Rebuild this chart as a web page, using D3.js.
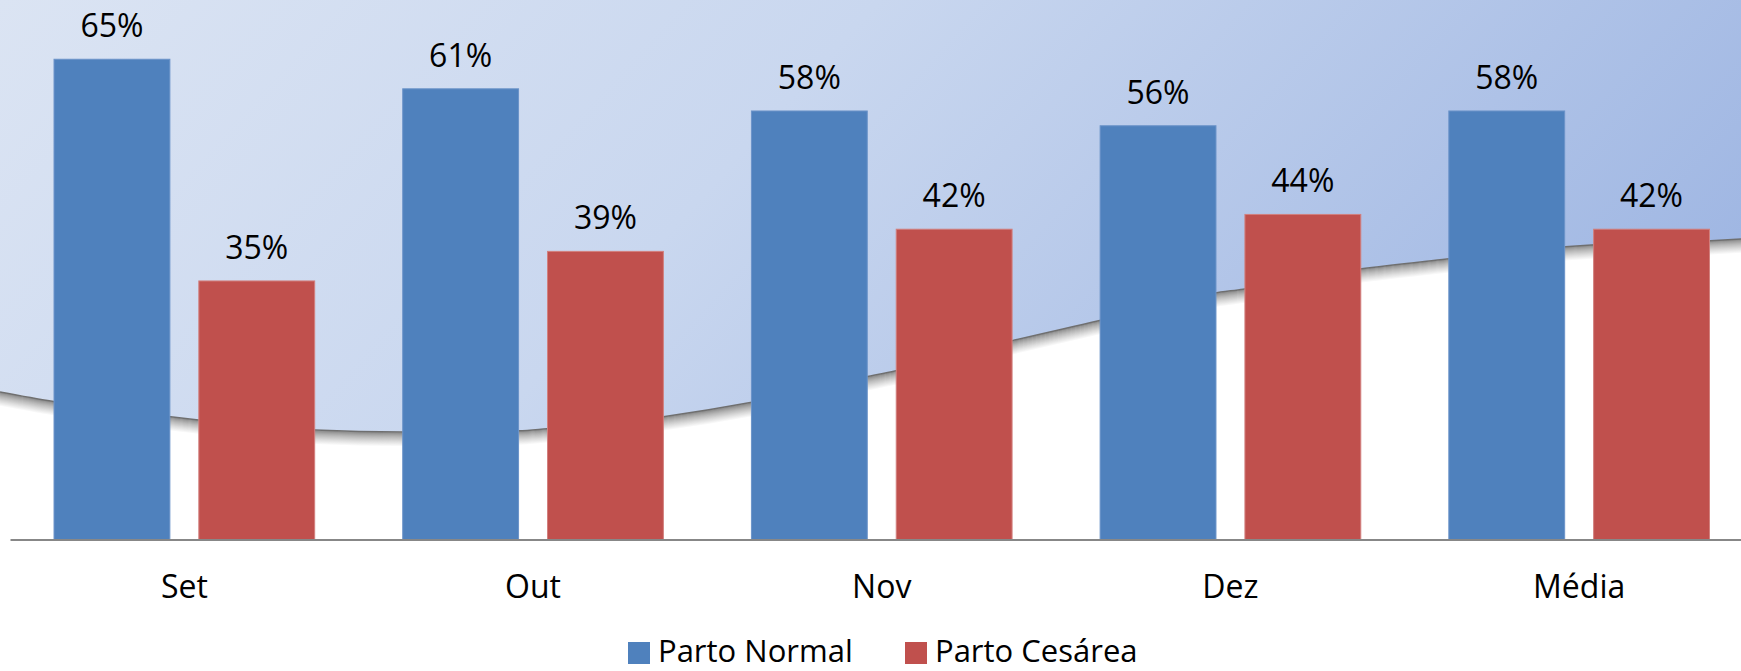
<!DOCTYPE html>
<html>
<head>
<meta charset="utf-8">
<script src="https://cdn.jsdelivr.net/npm/d3@7"></script>
<style>
  html, body { margin: 0; padding: 0; background: #ffffff; }
  svg { display: block; }
  text { font-family: "Open Sans", "Noto Sans", sans-serif; fill: #000; }
</style>
</head>
<body>
<svg id="chart" width="1741" height="671"></svg>
<script>
// ---- data ----
const categories = ["Set", "Out", "Nov", "Dez", "Média"];
const seriesNames = ["Parto Normal", "Parto Cesárea"];
const partoNormal = [0.65, 0.61, 0.58, 0.56, 0.58];
const partoCesarea = [0.35, 0.39, 0.42, 0.44, 0.42];
const seriesColors = ["#4f81bd", "#c0504d"];

// decorative background wave (fractions of width / height)
const waveX = [0, 0.030, 0.098, 0.114, 0.181, 0.231, 0.298, 0.314, 0.381, 0.431, 0.497, 0.514, 0.581, 0.631, 0.697, 0.714, 0.781, 0.831, 0.897, 0.914, 0.980, 1];
const waveY = [0.584, 0.598, 0.621, 0.626, 0.641, 0.644, 0.642, 0.639, 0.621, 0.600, 0.562, 0.553, 0.508, 0.478, 0.437, 0.431, 0.401, 0.386, 0.368, 0.365, 0.359, 0.356];

const W = 1741, H = 671;
const svg = d3.select("#chart");

// ---- background ----
const defs = svg.append("defs");
const grad = defs.append("linearGradient").attr("id", "bg")
  .attr("x1", "0").attr("y1", "0").attr("x2", "1").attr("y2", "0.35");
grad.append("stop").attr("offset", "0%").attr("stop-color", "#dbe4f3");
grad.append("stop").attr("offset", "45%").attr("stop-color", "#c9d7ef");
grad.append("stop").attr("offset", "100%").attr("stop-color", "#a0b7e3");
svg.append("rect").attr("width", W).attr("height", H).attr("fill", "url(#bg)");

const wavePts = waveX.map((fx, i) => [fx * W, waveY[i] * H]);
const waveLine = d3.line().curve(d3.curveMonotoneX);
svg.append("path").attr("d", waveLine(wavePts) + "L" + W + "," + H + "L0," + H + "Z")
  .attr("fill", "#ffffff");
// soft shadow under the wave
const shadowG = svg.append("g");
for (let k = 14; k >= 1; k--) {
  const t = Math.pow(k / 14, 0.75);
  const g = Math.round(130 + (255 - 130) * t);
  shadowG.append("path").attr("d", waveLine(wavePts))
    .attr("transform", `translate(0,${k})`)
    .attr("fill", "none").attr("stroke", `rgb(${g},${g},${g})`).attr("stroke-width", 1.6);
}
svg.append("path").attr("d", waveLine(wavePts))
  .attr("fill", "none").attr("stroke", "#6f6f6f").attr("stroke-width", 1.5);

// ---- scales ----
const x = d3.scaleBand().domain(categories).range([10, 1753.5]).paddingInner(0).paddingOuter(0);
const xs = d3.scaleBand().domain(seriesNames).range([0, x.bandwidth()]).paddingInner(0.2).paddingOuter(0.304);
const y = d3.scaleLinear().domain([0, 0.7]).range([539.6, 22.3]);

const rows = categories.map((c, i) => ({ cat: c, vals: [partoNormal[i], partoCesarea[i]] }));

// ---- bars ----
const groups = svg.append("g").selectAll("g").data(rows).join("g")
  .attr("transform", d => `translate(${x(d.cat)},0)`);
groups.selectAll("rect").data(d => d.vals.map((v, j) => ({ v, s: seriesNames[j], j }))).join("rect")
  .attr("x", d => xs(d.s))
  .attr("y", d => y(d.v))
  .attr("width", xs.bandwidth())
  .attr("height", d => y(0) - y(d.v))
  .attr("fill", d => seriesColors[d.j])
  .attr("stroke", d => d.j === 0 ? "#6b93c9" : "#d27f7d")
  .attr("stroke-width", 1);

// ---- value labels ----
const fmt = d3.format(".0%");
groups.selectAll("text.val").data(d => d.vals.map((v, j) => ({ v, s: seriesNames[j], j }))).join("text")
  .attr("class", "val")
  .attr("x", d => xs(d.s) + xs.bandwidth() / 2)
  .attr("y", d => y(d.v) - 22)
  .attr("text-anchor", "middle")
  .style("font-size", "32px")
  .text(d => fmt(d.v));

// ---- axis ----
const axis = svg.append("g").attr("transform", `translate(0,${y(0)})`)
  .call(d3.axisBottom(x).tickSize(0).tickSizeOuter(0));
axis.select(".domain").attr("stroke", "#878787").attr("stroke-width", 2);
axis.selectAll(".tick text")
  .attr("y", 58.5).attr("dy", 0)
  .style("font-size", "32px")
  .style("font-family", "'Open Sans', 'Noto Sans', sans-serif")
  .attr("fill", "#000");

// ---- legend ----
const legendX = [628, 905];
const leg = svg.append("g").selectAll("g").data(seriesNames).join("g")
  .attr("transform", (d, i) => `translate(${legendX[i]},0)`);
leg.append("rect").attr("x", 0).attr("y", 642).attr("width", 22).attr("height", 22)
  .attr("fill", (d, i) => seriesColors[i]);
leg.append("text").attr("x", 30).attr("y", 662).style("font-size", "31px").text(d => d);
</script>
</body>
</html>
